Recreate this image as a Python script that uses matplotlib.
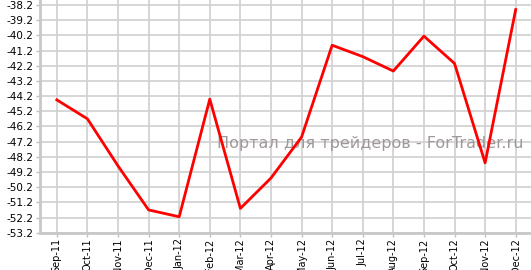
import numpy as np
from matplotlib import pyplot as plt

months = ['Sep-11', 'Oct-11', 'Nov-11', 'Dec-11', 'Jan-12', 'Feb-12', 'Mar-12', 'Apr-12',
          'May-12', 'Jun-12', 'Jul-12', 'Aug-12', 'Sep-12', 'Oct-12', 'Nov-12', 'Dec-12']
values = [-44.45, -45.7, -48.8, -51.7, -52.15, -44.4, -51.6, -49.6,
          -46.9, -40.85, -41.6, -42.55, -40.25, -42.05, -48.6, -38.5]
yticks = np.arange(-53.2, -38.1, 1.0)

fig = plt.figure(figsize=(5.31, 2.70), dpi=100)
ax = fig.add_axes([40/531, 37.3/270, 491/531, 232.7/270])

x = np.arange(len(months))
ax.plot(x, values, color='#ff0000', linewidth=2, zorder=3)

ax.set_xlim(-0.55, 15.5)
ax.set_ylim(-53.2, -37.87)
ax.set_xticks(x)
ax.set_xticklabels(months, rotation=90, fontsize=7, family='DejaVu Sans')
ax.set_yticks(yticks)
ax.set_yticklabels(['%.1f' % v for v in yticks], fontsize=7.5, family='DejaVu Sans')
ax.grid(True, color='#d0d0d0', linewidth=1.2)
ax.set_axisbelow(True)
ax.tick_params(axis='y', length=3, width=1, color='#c0c0c0', pad=2)
ax.tick_params(axis='x', length=3, width=1, color='#c0c0c0', pad=1)
for s in ['top', 'right']:
    ax.spines[s].set_visible(False)
for s in ['left', 'bottom']:
    ax.spines[s].set_color('#c8c8c8')
    ax.spines[s].set_linewidth(2)

ax.text(0.985, 0.385, 'Портал для трейдеров - ForTrader.ru', transform=ax.transAxes,
        ha='right', va='center', fontsize=11.5, color='#a09898', zorder=2)

fig.savefig('out.png', dpi=100)
